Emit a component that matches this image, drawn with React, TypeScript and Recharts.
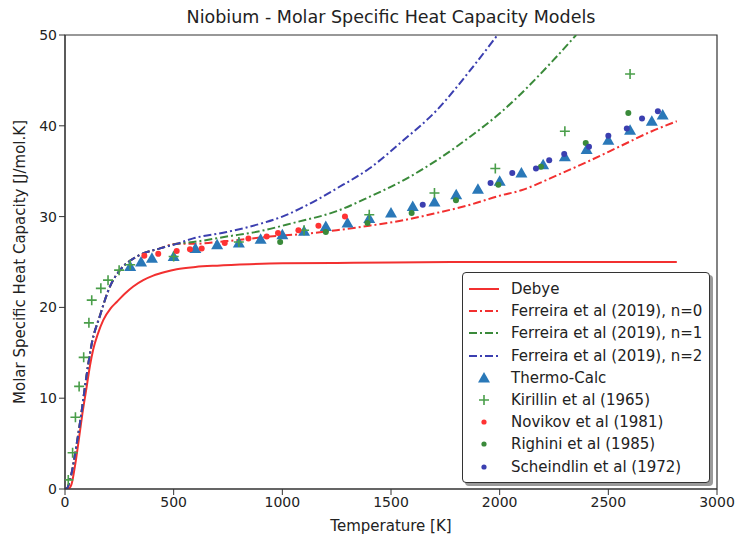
import React from 'react'
import {
  ComposedChart,
  Line,
  Scatter,
  XAxis,
  YAxis,
  ReferenceArea,
  Legend,
} from 'recharts'

// model curves (temperature in K, Cp in J/mol.K)
const debyeT = [0, 20, 31, 45, 61, 80, 100, 115, 130, 150, 176, 210, 238, 275, 314, 360, 406, 460, 514, 600, 700, 850, 1000, 1250, 1500, 2000, 2500, 2815]
const debyeCp = [0, 0.1, 0.6, 2.4, 5.0, 8.3, 11.3, 13.6, 15.4, 17.0, 18.6, 19.9, 20.6, 21.5, 22.3, 23.0, 23.5, 23.9, 24.2, 24.45, 24.6, 24.75, 24.85, 24.9, 24.95, 25, 25, 25]

const lowT = [0, 10, 23, 54, 75, 92, 123, 161, 207, 253, 330, 437, 514]
const lowCp = [0, 0.1, 1.0, 5.0, 8.3, 11.3, 16.0, 19.1, 22.3, 24.1, 25.6, 26.5, 27.0]

const n0T = [590, 744, 943, 1100, 1250, 1400, 1557, 1710, 1864, 2000, 2100, 2250, 2400, 2550, 2700, 2815]
const n0Cp = [27.0, 27.3, 27.8, 28.1, 28.5, 29.0, 29.6, 30.4, 31.3, 32.3, 32.9, 34.4, 36.0, 37.7, 39.4, 40.5]

const n1T = [590, 744, 897, 1050, 1250, 1403, 1557, 1710, 1864, 2002, 2246, 2352]
const n1Cp = [27.2, 27.8, 28.4, 29.3, 30.6, 32.2, 34.0, 36.2, 38.8, 41.4, 47.2, 50]

const n2T = [590, 744, 897, 1000, 1100, 1250, 1400, 1557, 1710, 1864, 1990]
const n2Cp = [27.6, 28.3, 29.2, 30.0, 31.1, 33.1, 35.3, 38.4, 41.7, 46.1, 50]

// measurements
const thermoT = [300, 350, 400, 500, 600, 700, 800, 900, 1000, 1100, 1200, 1300, 1400, 1500, 1600, 1700, 1800, 1900, 2000, 2100, 2200, 2300, 2400, 2500, 2600, 2700, 2750]
const thermoCp = [24.5, 25.0, 25.4, 25.6, 26.5, 26.9, 27.1, 27.5, 28.0, 28.4, 28.9, 29.3, 29.8, 30.4, 31.1, 31.6, 32.4, 33.0, 33.9, 34.8, 35.7, 36.6, 37.4, 38.4, 39.5, 40.5, 41.2]

const kirillinT = [15, 35, 48, 65, 86, 110, 123, 165, 198, 249, 300, 500, 800, 1100, 1400, 1700, 1980, 2300, 2600]
const kirillinCp = [1.0, 4.0, 7.9, 11.3, 14.5, 18.3, 20.8, 22.1, 23.0, 24.1, 24.7, 25.6, 27.2, 28.5, 30.2, 32.6, 35.3, 39.4, 45.7]

const novikovT = [365, 429, 514, 575, 629, 735, 844, 928, 980, 1074, 1166, 1288]
const novikovCp = [25.7, 25.9, 26.2, 26.4, 26.5, 27.1, 27.6, 27.8, 28.2, 28.5, 29.0, 30.0]

const righiniT = [990, 1200, 1392, 1595, 1799, 1994, 2190, 2396, 2592]
const righiniCp = [27.2, 28.3, 29.3, 30.4, 31.8, 33.5, 35.5, 38.1, 41.4]

const scheindlinT = [1646, 1958, 2058, 2167, 2228, 2297, 2411, 2500, 2585, 2655, 2728]
const scheindlinCp = [31.3, 33.7, 34.8, 35.3, 36.2, 36.9, 37.7, 38.9, 39.7, 40.8, 41.6]

const xTicks = [0, 500, 1000, 1500, 2000, 2500, 3000]
const yTicks = [0, 10, 20, 30, 40, 50]

const zip = (t: number[], v: number[]) => t.map((x, i) => ({ t: x, cp: v[i] }))

const lowPart = zip(lowT, lowCp)
const debyeData = zip(debyeT, debyeCp)
const n0Data = [...lowPart, ...zip(n0T, n0Cp)]
const n1Data = [...lowPart, ...zip(n1T, n1Cp)]
const n2Data = [...lowPart, ...zip(n2T, n2Cp)]

const RED = '#f23030'
const GREEN = '#3a8a3a'
const BLUE = '#3b3fb0'
const TC_BLUE = '#2a78b8'
const PLUS_GREEN = '#4a9e4a'
const DASHDOT = '8 3 2 3'
const FONT = '"DejaVu Sans", sans-serif'

const Triangle = (props: any) => {
  const { cx, cy } = props
  const s = 6
  return <path d={`M${cx},${cy - s} L${cx + s},${cy + s * 0.75} L${cx - s},${cy + s * 0.75} Z`} fill={TC_BLUE} />
}

const Plus = (props: any) => {
  const { cx, cy } = props
  const s = 5
  return <path d={`M${cx - s},${cy} H${cx + s} M${cx},${cy - s} V${cy + s}`} stroke={PLUS_GREEN} strokeWidth={1.6} fill="none" />
}

const dot = (color: string) => (props: any) => <circle cx={props.cx} cy={props.cy} r={3} fill={color} />

const legendRows = [
  { label: 'Debye', kind: 'line', color: RED, dash: undefined },
  { label: 'Ferreira et al (2019), n=0', kind: 'line', color: RED, dash: DASHDOT },
  { label: 'Ferreira et al (2019), n=1', kind: 'line', color: GREEN, dash: DASHDOT },
  { label: 'Ferreira et al (2019), n=2', kind: 'line', color: BLUE, dash: DASHDOT },
  { label: 'Thermo-Calc', kind: 'tri', color: TC_BLUE },
  { label: 'Kirillin et al (1965)', kind: 'plus', color: PLUS_GREEN },
  { label: 'Novikov et al (1981)', kind: 'dot', color: '#ff3333' },
  { label: 'Righini et al (1985)', kind: 'dot', color: GREEN },
  { label: 'Scheindlin et al (1972)', kind: 'dot', color: BLUE },
]

function LegendBox() {
  return (
    <div
      style={{
        width: 248,
        height: 211,
        border: '1.5px solid #333',
        borderRadius: 4,
        background: '#fff',
        boxShadow: '3px 3px 0 #9a9a9a',
        boxSizing: 'border-box',
        paddingTop: 5,
        fontFamily: FONT,
        fontSize: 15,
        color: '#222',
      }}
    >
      {legendRows.map((r) => (
        <div key={r.label} style={{ display: 'flex', alignItems: 'center', height: 22.2 }}>
          <svg width={48} height={14} style={{ flex: 'none' }}>
            {r.kind === 'line' && (
              <line x1={6} x2={36} y1={7} y2={7} stroke={r.color} strokeWidth={2} strokeDasharray={r.dash} />
            )}
            {r.kind === 'tri' && <path d="M21,1 L27,11.5 L15,11.5 Z" fill={r.color} />}
            {r.kind === 'plus' && (
              <path d="M16,7 H26 M21,2 V12" stroke={r.color} strokeWidth={1.6} fill="none" />
            )}
            {r.kind === 'dot' && <circle cx={21} cy={7} r={2.6} fill={r.color} />}
          </svg>
          <span style={{ whiteSpace: 'nowrap' }}>{r.label}</span>
        </div>
      ))}
    </div>
  )
}

export default function App() {
  return (
    <div style={{ position: 'absolute', left: 0, top: 0, width: 735, height: 537, background: '#fff' }}>
      <div
        style={{
          position: 'absolute',
          left: 65,
          width: 652,
          top: 7,
          textAlign: 'center',
          fontFamily: FONT,
          fontSize: 17.5,
          color: '#222',
        }}
      >
        Niobium - Molar Specific Heat Capacity Models
      </div>
      <ComposedChart width={735} height={537} margin={{ top: 35, right: 18, bottom: 0, left: 10 }}>
        <XAxis
          dataKey="t"
          type="number"
          domain={[0, 3000]}
          ticks={xTicks}
          allowDataOverflow
          height={48}
          stroke="#333"
          tick={{ fill: '#222', fontSize: 14, fontFamily: FONT }}
          label={{ value: 'Temperature [K]', position: 'insideBottom', offset: 6, fill: '#222', fontSize: 15, fontFamily: FONT }}
        />
        <YAxis
          dataKey="cp"
          type="number"
          domain={[0, 50]}
          ticks={yTicks}
          allowDataOverflow
          width={55}
          stroke="#333"
          tick={{ fill: '#222', fontSize: 14, fontFamily: FONT }}
          label={{
            value: 'Molar Specific Heat Capacity [J/mol.K]',
            angle: -90,
            position: 'center',
            dx: -18,
            fill: '#222',
            fontSize: 15,
            fontFamily: FONT,
          }}
        />
        <ReferenceArea x1={0} x2={3000} y1={0} y2={50} fill="none" stroke="#333" strokeWidth={1.2} />
        <Line data={debyeData} dataKey="cp" type="monotone" stroke={RED} strokeWidth={2} dot={false} isAnimationActive={false} name="Debye" />
        <Line data={n0Data} dataKey="cp" type="monotone" stroke={RED} strokeWidth={2} strokeDasharray={DASHDOT} dot={false} isAnimationActive={false} name="n0" />
        <Line data={n1Data} dataKey="cp" type="monotone" stroke={GREEN} strokeWidth={2} strokeDasharray={DASHDOT} dot={false} isAnimationActive={false} name="n1" />
        <Line data={n2Data} dataKey="cp" type="monotone" stroke={BLUE} strokeWidth={2} strokeDasharray={DASHDOT} dot={false} isAnimationActive={false} name="n2" />
        <Scatter data={zip(thermoT, thermoCp)} dataKey="cp" shape={Triangle} isAnimationActive={false} name="Thermo-Calc" />
        <Scatter data={zip(kirillinT, kirillinCp)} dataKey="cp" shape={Plus} isAnimationActive={false} name="Kirillin" />
        <Scatter data={zip(novikovT, novikovCp)} dataKey="cp" shape={dot('#ff3333')} isAnimationActive={false} name="Novikov" />
        <Scatter data={zip(righiniT, righiniCp)} dataKey="cp" shape={dot(GREEN)} isAnimationActive={false} name="Righini" />
        <Scatter data={zip(scheindlinT, scheindlinCp)} dataKey="cp" shape={dot(BLUE)} isAnimationActive={false} name="Scheindlin" />
        <Legend
          layout="horizontal"
          verticalAlign="middle"
          align="center"
          content={() => <LegendBox />}
          wrapperStyle={{ position: 'absolute', left: 462, top: 272, width: 250, height: 215 }}
        />
      </ComposedChart>
    </div>
  )
}
